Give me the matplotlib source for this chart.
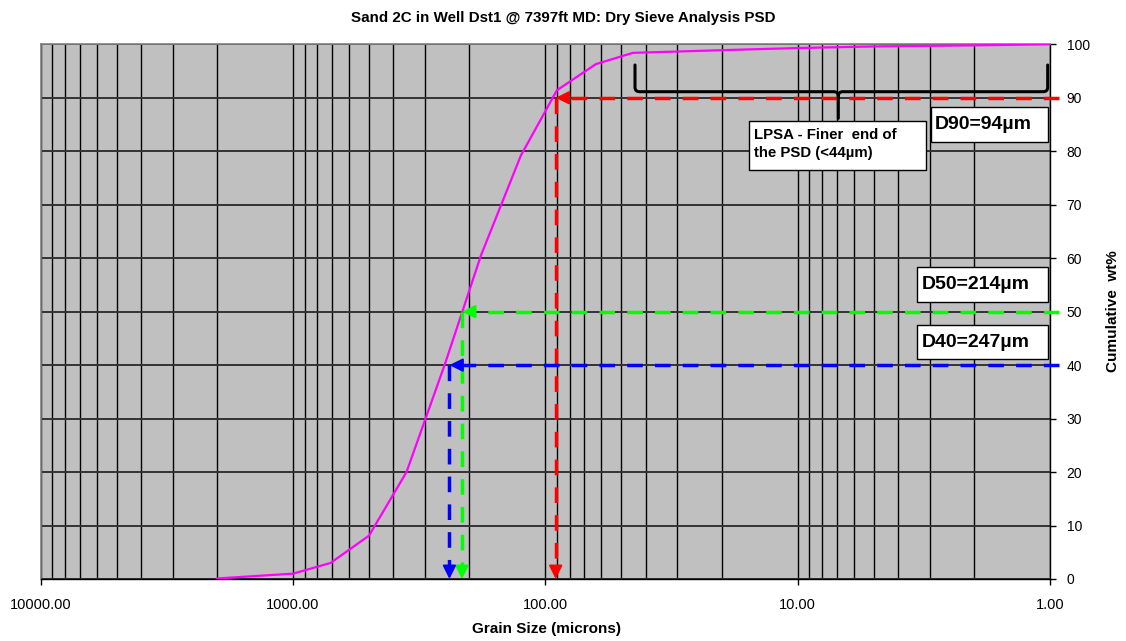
import numpy as np
import matplotlib
matplotlib.use('Agg')
import matplotlib.pyplot as plt
from matplotlib.path import Path
from matplotlib.patches import PathPatch, Rectangle
from matplotlib.ticker import FixedLocator, FuncFormatter, NullFormatter

plt.rcParams['font.family'] = ['Liberation Sans', 'DejaVu Sans']

# ---- data ----
grain_size = [2000, 1000, 710, 500, 355, 250, 180, 125, 90, 63, 45, 20, 10, 5, 2, 1]
cum_wt = [0.1, 1.0, 3.0, 8.1, 20.0, 40.2, 60.5, 79.2, 91.4, 96.3, 98.4, 98.9, 99.3, 99.6, 99.8, 100]

d_names = ['D90', 'D50', 'D40']
d_values_um = [94, 214, 247]
d_pct = [90, 50, 40]
d_arrow_x = [91, 214, 240]
d_colors = ['#FF0000', '#00FF00', '#0000FF']

x_ticks = [10000, 1000, 100, 10, 1]
y_ticks = list(range(0, 101, 10))

title = 'Sand 2C in Well Dst1 @ 7397ft MD: Dry Sieve Analysis PSD'
xlabel = 'Grain Size (microns)'
ylabel = 'Cumulative  wt%'
lpsa_text = 'LPSA - Finer  end of\nthe PSD (<44\u00b5m)'

# ---- layout ----
W, H = 1126, 641
L, R, T, B = 40.7, 1050.0, 44.3, 579.0
fig = plt.figure(figsize=(W / 100, H / 100), dpi=100)
ax = fig.add_axes([L / W, 1 - B / H, (R - L) / W, (B - T) / H])


def fx(px):
    return (px - L) / (R - L)


def fy(py):
    return (B - py) / (B - T)


ax.set_facecolor('#C0C0C0')
ax.set_xscale('log')
ax.set_xlim(10000, 1)
ax.set_ylim(0, 100)

minor = [k * 10 ** e for e in range(0, 4) for k in range(2, 10)]
ax.xaxis.set_major_locator(FixedLocator(x_ticks))
ax.xaxis.set_minor_locator(FixedLocator(minor))
ax.xaxis.set_major_formatter(FuncFormatter(lambda v, p: f'{v:.2f}'))
ax.xaxis.set_minor_formatter(NullFormatter())
ax.yaxis.set_major_locator(FixedLocator(y_ticks))
ax.yaxis.tick_right()
ax.yaxis.set_label_position('right')

ax.tick_params(axis='x', which='major', length=4, width=1, direction='out', pad=10,
               labelsize=10.5, colors='black')
ax.tick_params(axis='x', which='minor', length=0)
ax.tick_params(axis='y', which='major', length=4, width=1, direction='out', pad=8,
               labelsize=10, right=True, left=False)

ax.grid(True, which='both', axis='x', color='black', lw=1.0)
ax.grid(True, which='major', axis='y', color='#333333', lw=1.4)
ax.set_axisbelow(True)

for s in ['top', 'left']:
    ax.spines[s].set_color('#808080')
    ax.spines[s].set_linewidth(1.2)
for s in ['bottom', 'right']:
    ax.spines[s].set_color('black')
    ax.spines[s].set_linewidth(1.0)

# curve
ax.plot(grain_size, cum_wt, color='#FF00FF', lw=1.6, zorder=3, solid_joinstyle='miter')

# D arrows
dash = (4.5, 3.5)
head = '-|>,head_length=0.8,head_width=0.4'
for name, xv, pv, c in zip(d_names, d_arrow_x, d_pct, d_colors):
    # horizontal from beyond right edge to the curve
    ax.plot([0.92, xv * 0.92], [pv, pv], color=c, lw=2.5, ls=(0, dash),
            clip_on=False, zorder=4, dash_capstyle='butt')
    ax.annotate('', xy=(xv, pv), xytext=(9, 0), textcoords='offset points',
                arrowprops=dict(arrowstyle=head, color=c, lw=1.5, shrinkA=0, shrinkB=0),
                zorder=5, annotation_clip=False)
    # vertical down to axis
    ax.plot([xv, xv], [pv, 2.5], color=c, lw=2.5, ls=(0, dash),
            clip_on=False, zorder=4, dash_capstyle='butt')
    ax.annotate('', xy=(xv, 0), xytext=(0, 9), textcoords='offset points',
                arrowprops=dict(arrowstyle=head, color=c, lw=1.5, shrinkA=0, shrinkB=0),
                zorder=5, annotation_clip=False)

# brace (axes fraction coordinates derived from pixel layout)
r = 4.5
xl, xc, xr = 635.0, 838.3, 1047.7
ytop, ymid, ytip = 65.0, 91.7, 118.3
pts_px = [
    (xl, ytop), (xl, ymid - r), (xl, ymid), (xl + r, ymid),
    (xc - r, ymid), (xc, ymid), (xc, ymid + r), (xc, ytip),
    (xc, ymid + r), (xc, ymid), (xc + r, ymid),
    (xr - r, ymid), (xr, ymid), (xr, ymid - r), (xr, ytop),
]
codes = [Path.MOVETO, Path.LINETO, Path.CURVE3, Path.CURVE3,
         Path.LINETO, Path.CURVE3, Path.CURVE3, Path.LINETO,
         Path.MOVETO, Path.CURVE3, Path.CURVE3,
         Path.LINETO, Path.CURVE3, Path.CURVE3, Path.LINETO]
verts = [(fx(a), fy(b)) for a, b in pts_px]
ax.add_patch(PathPatch(Path(verts, codes), transform=ax.transAxes, fill=False,
                       edgecolor='black', lw=2.2, zorder=6, clip_on=False,
                       capstyle='round', joinstyle='round'))


# boxes
def box(x0, y0, x1, y1):
    ax.add_patch(Rectangle((fx(x0), fy(y1)), fx(x1) - fx(x0), fy(y0) - fy(y1),
                           transform=ax.transAxes, facecolor='white',
                           edgecolor='black', lw=1.0, zorder=7, clip_on=False))


box(749.3, 121, 926, 170)
ax.text(fx(754), fy(144), lpsa_text, transform=ax.transAxes, ha='left', va='center',
        fontsize=10.8, fontweight='bold', linespacing=1.45, zorder=8)

d_boxes = [(930.7, 107.3, 1048.3, 141.7), (917.3, 267.3, 1048.3, 302.3),
           (917.3, 325.0, 1048.3, 359.3)]
for name, v, (x0, y0, x1, y1) in zip(d_names, d_values_um, d_boxes):
    box(x0, y0, x1, y1)
    ax.text(fx(x0 + 4.5), fy((y0 + y1) / 2), f'{name}={v}\u00b5m', transform=ax.transAxes,
            ha='left', va='center', fontsize=14, fontweight='bold', zorder=8)

# titles
fig.text(563 / W, 1 - 18 / H, title, ha='center', va='center', fontsize=10.9,
         fontweight='bold')
fig.text(546 / W, 1 - 629 / H, xlabel, ha='center', va='center', fontsize=11,
         fontweight='bold')
fig.text(1113 / W, 1 - 311 / H, ylabel, ha='center', va='center', fontsize=11,
         fontweight='bold', rotation=90)

fig.savefig('out.png', dpi=100)
